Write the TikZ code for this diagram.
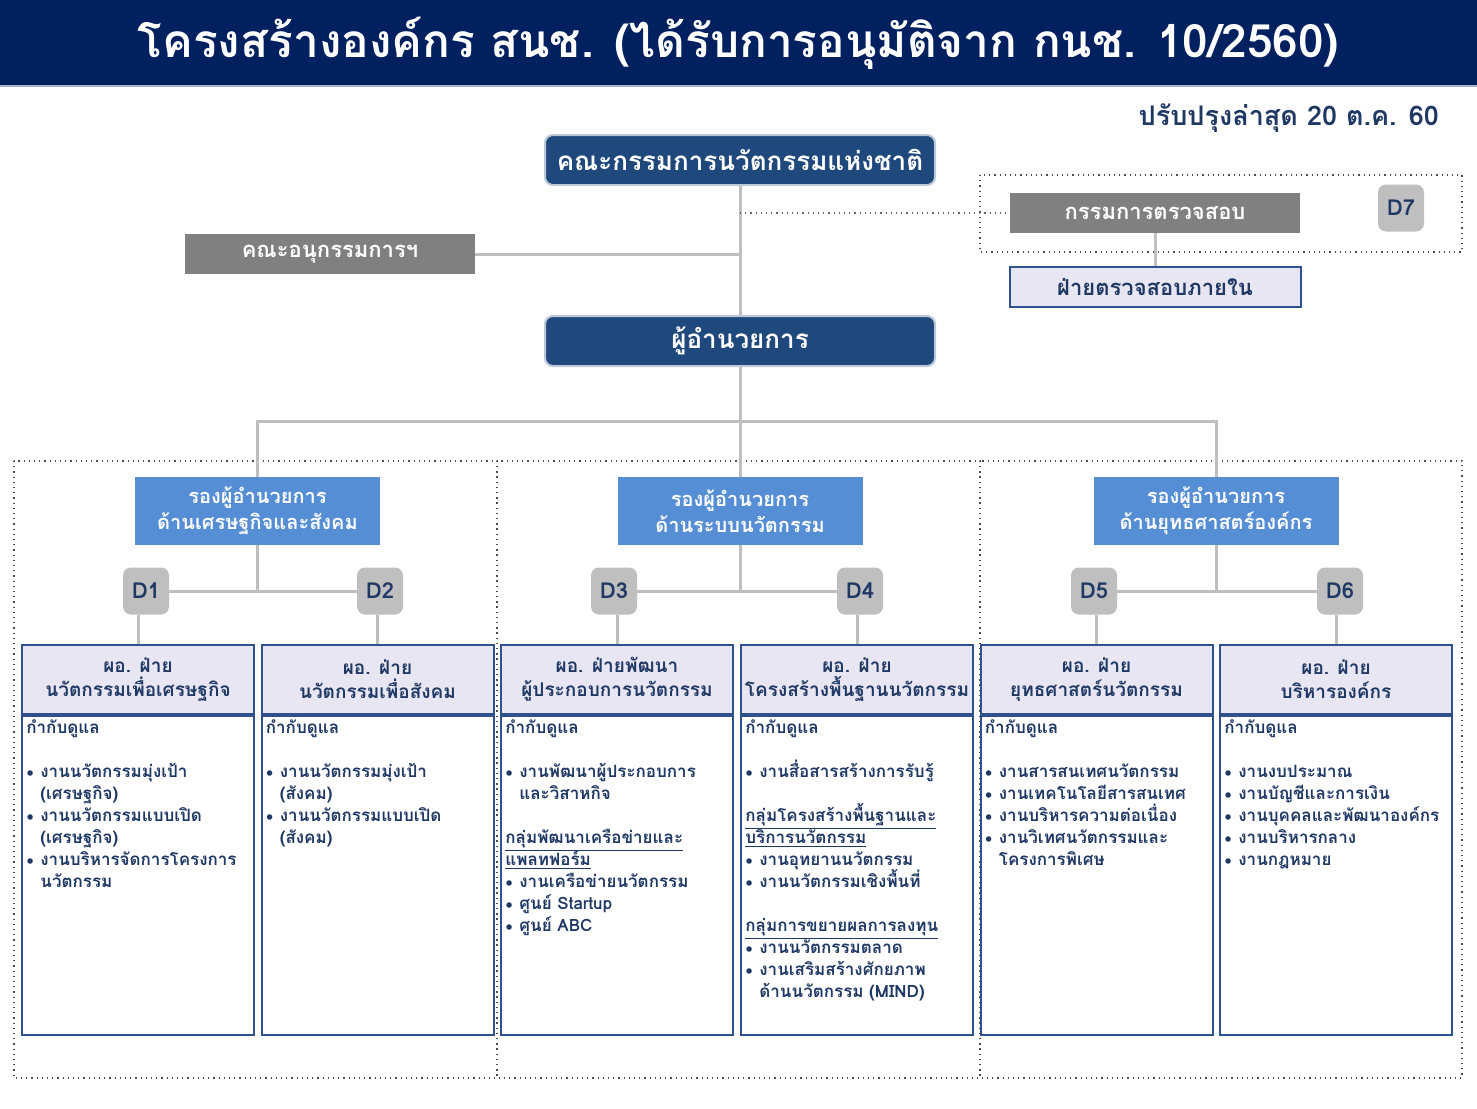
\documentclass[tikz,border=0pt]{standalone}
\usepackage{fontspec}
\setmainfont{Loma}[Script=Thai]
\usetikzlibrary{positioning}
\definecolor{band}{RGB}{0,32,96}
\definecolor{boardblue}{RGB}{31,73,125}
\definecolor{boxgray}{RGB}{128,128,128}
\definecolor{badgegray}{RGB}{191,191,191}
\definecolor{depblue}{RGB}{85,142,213}
\definecolor{lavender}{RGB}{231,230,242}
\definecolor{divline}{RGB}{47,82,143}
\definecolor{navytext}{RGB}{31,56,100}
\definecolor{linegray}{RGB}{191,191,191}
\newcommand\bul{\par\hangindent=7pt\hangafter=1\noindent\makebox[7pt][l]{\raisebox{.1ex}{$\scriptstyle\bullet$}}}
\newcommand\gap{\par\vspace{\baselineskip}}
\newcommand\tightlines{\lineskiplimit=-20pt\relax}
\begin{document}
\begin{tikzpicture}[x=0.5pt,y=-0.5pt,
    boardbox/.style={rounded corners=4pt, fill=boardblue, draw=white!70!boardblue, line width=1pt, text=white, minimum width=195pt, minimum height=25pt, font=\bfseries\fontsize{13}{15}\selectfont},
    greybox/.style={fill=boxgray, text=white, minimum width=145pt, minimum height=20pt, font=\bfseries\fontsize{11}{13}\selectfont},
    depbox/.style={fill=depblue, text=white, align=center, minimum width=122.5pt, minimum height=34pt, font=\bfseries\fontsize{10}{13}\selectfont},
    badge/.style={rounded corners=4pt, fill=badgegray, text=navytext, minimum width=23pt, minimum height=23.5pt, inner sep=0pt, font=\bfseries\fontsize{11}{13}\selectfont},
    headbox/.style={fill=lavender, draw=divline, line width=1pt, text=navytext, align=center, minimum width=116pt, minimum height=34.5pt, inner sep=1pt, font=\bfseries\fontsize{9.5}{12}\selectfont},
    bodybox/.style={draw=divline, line width=1pt, minimum width=116pt, minimum height=159.5pt},
    bodytext/.style={text=navytext, text width=112pt, align=left, inner sep=0pt, font=\bfseries\fontsize{8.5}{11}\selectfont, execute at begin node=\tightlines},
    conn/.style={draw=linegray, line width=1.5pt},
    zone/.style={draw=black!70, dotted, line width=0.6pt}]
    \useasboundingbox (0,0) rectangle (1477,1108);

    % Title band
    \fill[band] (0,0) rectangle (1477,85);
    \fill[band!35] (0,85) rectangle (1477,87);
    \node[text=white, font=\bfseries\fontsize{23}{27}\selectfont] (title) at (738.5,43) {โครงสร้างองค์กร สนช. (ได้รับการอนุมัติจาก กนช. 10/2560)};
    \node[anchor=east, text=navytext, font=\bfseries\fontsize{13.5}{15}\selectfont] (date) at (1446,118) {ปรับปรุงล่าสุด 20 ต.ค. 60};

    % Dotted zones
    \draw[zone] (980,175) rectangle (1462,252);
    \draw[zone] (14,461) rectangle (497,1078);
    \draw[zone] (497,461) rectangle (980,1078);
    \draw[zone] (980,461) rectangle (1462,1078);

    % Draw nodes for the board and director
    \node[boardbox] (nic) at (740,160) {คณะกรรมการนวัตกรรมแห่งชาติ};
    \node[greybox] (sub) at (330,254) {คณะอนุกรรมการฯ};
    \node[greybox] (audit) at (1155,213) {กรรมการตรวจสอบ};
    \node[badge] (d7) at (1401,208) {D7};
    \node[headbox, minimum width=145.5pt, minimum height=20pt, font=\bfseries\fontsize{11}{13}\selectfont] (ia) at (1155,287) {ฝ่ายตรวจสอบภายใน};
    \node[boardbox] (dir) at (740,341) {ผู้อำนวยการ};

    % Draw nodes for the deputies
    \node[depbox] (dep1) at (257.5,511) {รองผู้อำนวยการ\\ด้านเศรษฐกิจและสังคม};
    \node[depbox] (dep2) at (740,511) {รองผู้อำนวยการ\\ด้านระบบนวัตกรรม};
    \node[depbox] (dep3) at (1216,511) {รองผู้อำนวยการ\\ด้านยุทธศาสตร์องค์กร};

    % Draw badges
    \node[badge] (d1) at (146,591) {D1};
    \node[badge] (d2) at (380,591) {D2};
    \node[badge] (d3) at (614,591) {D3};
    \node[badge] (d4) at (860,591) {D4};
    \node[badge] (d5) at (1094,591) {D5};
    \node[badge] (d6) at (1340,591) {D6};

    % Draw nodes for the divisions
    \node[headbox] (h1) at (138,679.5) {ผอ. ฝ่าย\\นวัตกรรมเพื่อเศรษฐกิจ};
    \node[headbox] (h2) at (377.5,679.5) {ผอ. ฝ่าย\\นวัตกรรมเพื่อสังคม};
    \node[headbox] (h3) at (617,679.5) {ผอ. ฝ่ายพัฒนา\\ผู้ประกอบการนวัตกรรม};
    \node[headbox] (h4) at (857,679.5) {ผอ. ฝ่าย\\โครงสร้างพื้นฐานนวัตกรรม};
    \node[headbox] (h5) at (1096.5,679.5) {ผอ. ฝ่าย\\ยุทธศาสตร์นวัตกรรม};
    \node[headbox] (h6) at (1336,679.5) {ผอ. ฝ่าย\\บริหารองค์กร};
    \node[bodybox, below=0pt of h1] (b1) {};
    \node[bodybox, below=0pt of h2] (b2) {};
    \node[bodybox, below=0pt of h3] (b3) {};
    \node[bodybox, below=0pt of h4] (b4) {};
    \node[bodybox, below=0pt of h5] (b5) {};
    \node[bodybox, below=0pt of h6] (b6) {};

    % Body texts
    \node[bodytext, anchor=north west] (t1) at ([xshift=2.5pt,yshift=-2pt]b1.north west) {กำกับดูแล\gap
        \bul งานนวัตกรรมมุ่งเป้า\newline(เศรษฐกิจ)
        \bul งานนวัตกรรมแบบเปิด\newline(เศรษฐกิจ)
        \bul งานบริหารจัดการโครงการ\newline นวัตกรรม\par};
    \node[bodytext, anchor=north west] (t2) at ([xshift=2.5pt,yshift=-2pt]b2.north west) {กำกับดูแล\gap
        \bul งานนวัตกรรมมุ่งเป้า\newline(สังคม)
        \bul งานนวัตกรรมแบบเปิด\newline(สังคม)\par};
    \node[bodytext, anchor=north west] (t3) at ([xshift=2.5pt,yshift=-2pt]b3.north west) {กำกับดูแล\gap
        \bul งานพัฒนาผู้ประกอบการ\newline และวิสาหกิจ\gap
        \noindent\underline{กลุ่มพัฒนาเครือข่ายและ}\\\underline{แพลทฟอร์ม}
        \bul งานเครือข่ายนวัตกรรม
        \bul ศูนย์ Startup
        \bul ศูนย์ ABC\par};
    \node[bodytext, anchor=north west] (t4) at ([xshift=2.5pt,yshift=-2pt]b4.north west) {กำกับดูแล\gap
        \bul งานสื่อสารสร้างการรับรู้\gap
        \noindent\underline{กลุ่มโครงสร้างพื้นฐานและ}\\\underline{บริการนวัตกรรม}
        \bul งานอุทยานนวัตกรรม
        \bul งานนวัตกรรมเชิงพื้นที่\gap
        \noindent\underline{กลุ่มการขยายผลการลงทุน}
        \bul งานนวัตกรรมตลาด
        \bul งานเสริมสร้างศักยภาพ\newline ด้านนวัตกรรม (MIND)\par};
    \node[bodytext, anchor=north west] (t5) at ([xshift=2.5pt,yshift=-2pt]b5.north west) {กำกับดูแล\gap
        \bul งานสารสนเทศนวัตกรรม
        \bul งานเทคโนโลยีสารสนเทศ
        \bul งานบริหารความต่อเนื่อง
        \bul งานวิเทศนวัตกรรมและ\newline โครงการพิเศษ\par};
    \node[bodytext, anchor=north west] (t6) at ([xshift=2.5pt,yshift=-2pt]b6.north west) {กำกับดูแล\gap
        \bul งานงบประมาณ
        \bul งานบัญชีและการเงิน
        \bul งานบุคคลและพัฒนาองค์กร
        \bul งานบริหารกลาง
        \bul งานกฎหมาย\par};

    % Draw edges
    \coordinate (bus) at (740,421);
    \draw[conn] (nic.south) -- (dir.north);
    \draw[conn] (sub.east) -- (sub.east -| nic.south);
    \draw[zone, draw=black!60] (audit.west -| nic.south) -- (audit.west);
    \draw[conn] (audit.south) -- (ia.north);
    \draw[conn] (dir.south) -- (bus);
    \draw[conn] (dep1.north) |- (bus) -| (dep3.north);
    \draw[conn] (bus) -- (dep2.north);
    \foreach \i/\a/\b in {1/1/2, 2/3/4, 3/5/6} {
        \draw[conn] (dep\i.south) -- (dep\i.south |- d\a.center);
        \draw[conn] (d\a) -- (d\b);
    }
    \foreach \i in {1,...,6}
        \draw[conn] (h\i.north) -- (h\i.north |- d\i.south);
\end{tikzpicture}
\end{document}
